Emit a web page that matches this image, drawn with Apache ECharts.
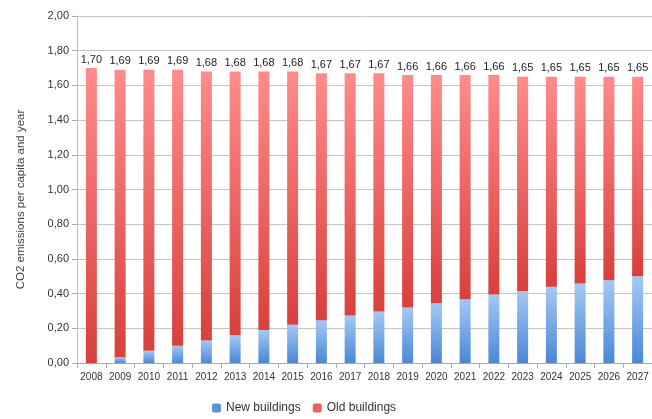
<!DOCTYPE html>
<html><head><meta charset="utf-8">
<script src="https://cdn.jsdelivr.net/npm/echarts@6/dist/echarts.min.js"></script>
<style>html,body{margin:0;padding:0;background:#fff}#c{width:652px;height:419px}</style>
</head><body><div id="c"></div>
<script>
const years = ['2008','2009','2010','2011','2012','2013','2014','2015','2016','2017','2018','2019','2020','2021','2022','2023','2024','2025','2026','2027'];
const totals = [1.70,1.69,1.69,1.69,1.68,1.68,1.68,1.68,1.67,1.67,1.67,1.66,1.66,1.66,1.66,1.65,1.65,1.65,1.65,1.65];
const newBuildings = [0.00,0.035,0.07,0.10,0.13,0.16,0.19,0.22,0.247,0.274,0.297,0.32,0.345,0.368,0.395,0.415,0.44,0.458,0.477,0.50];
const oldBuildings = totals.map((t,i)=> +(t - newBuildings[i]).toFixed(3));
const fmt = v => v.toFixed(2).replace('.', ',');
const chart = echarts.init(document.getElementById('c'));
chart.setOption({
  animation:false,
  textStyle:{fontFamily:'Liberation Sans, Arial, sans-serif'},
  grid:{left:77, top:16, width:576, height:347, containLabel:false},
  legend:{top:402, left:212, itemWidth:9, itemHeight:9, itemGap:12, padding:0, textStyle:{fontSize:12,color:'#333'},
    data:[{name:'New buildings',itemStyle:{color:'#5b92dc'}},{name:'Old buildings',itemStyle:{color:'#e5605e'}}]},
  xAxis:{type:'category', data:years, boundaryGap:true,
    axisLine:{lineStyle:{color:'#aaa'}}, axisTick:{show:true, length:5, lineStyle:{color:'#aaa'}},
    axisLabel:{fontSize:10, color:'#333', margin:9, interval:0}},
  yAxis:{type:'value', min:0, max:2, interval:0.2,
    name:'CO2 emissions per capita and year', nameLocation:'middle', nameGap:50, nameRotate:90,
    nameTextStyle:{fontSize:11.5, color:'#444', padding:[0,20,0,0]},
    axisLine:{show:true, lineStyle:{color:'#b4bfd2'}}, axisTick:{show:true, length:5, lineStyle:{color:'#aaa'}},
    axisLabel:{fontSize:11, color:'#333', margin:8, formatter:v=>fmt(v)},
    splitLine:{lineStyle:{color:'#c4c4c4'}}},
  series:[
    {name:'New buildings', type:'bar', stack:'s', barWidth:11, data:newBuildings,
     itemStyle:{color:new echarts.graphic.LinearGradient(0,0,0,1,[{offset:0,color:'#a4c8f4'},{offset:1,color:'#4a88d6'}])}},
    {name:'Old buildings', type:'bar', stack:'s', barWidth:11, data:oldBuildings,
     itemStyle:{color:new echarts.graphic.LinearGradient(0,0,0,1,[{offset:0,color:'#ff8c8c'},{offset:1,color:'#d8403c'}])},
     label:{show:true, position:'top', distance:3, fontSize:11, color:'#222', formatter:p=>fmt(totals[p.dataIndex])}}
  ]
});
</script></body></html>
